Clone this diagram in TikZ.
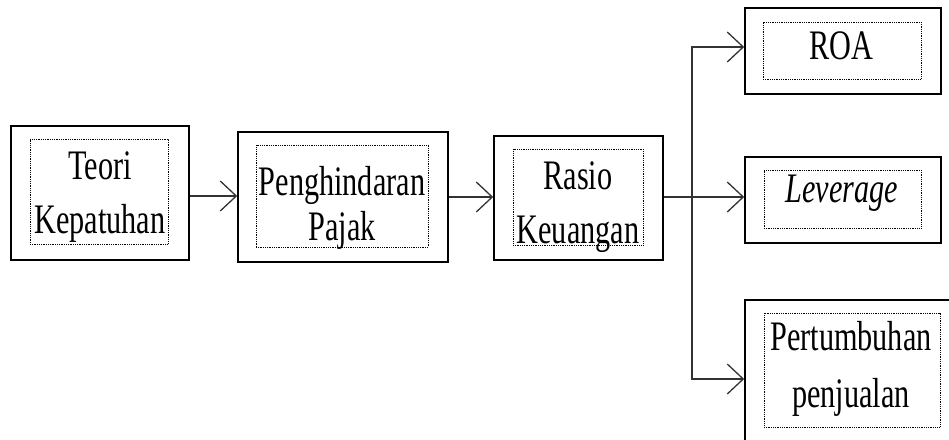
\documentclass[tikz,border=0pt]{standalone}
\usepackage{fontspec}
\setmainfont{Liberation Serif}[FakeStretch=0.72]
\usetikzlibrary{arrows.meta,calc}
\begin{document}
\begin{tikzpicture}[x=1pt,y=-1pt,
  outerbox/.style={draw=black,line width=1.6pt,rectangle,inner sep=0pt},
  innerbox/.style={draw=black,dash pattern=on 0.9pt off 0.9pt,line width=0.9pt,rectangle,inner sep=0pt},
  lbl/.style={align=center,inner sep=0pt,font=\fontsize{42}{54}\selectfont},
  arr/.style={draw=black!80,line width=1.3pt,-{Straight Barb[length=16pt,width=30pt,line width=1.3pt]}},
  conn/.style={draw=black!80,line width=1.3pt}]
\useasboundingbox (0,0) rectangle (949,439);
\clip (0,0) rectangle (949,439);
% outer boxes
\node[outerbox,minimum width=178pt,minimum height=134pt] (teori) at (100,193) {};
\node[outerbox,minimum width=210pt,minimum height=130pt] (pajak) at (343,197) {};
\node[outerbox,minimum width=169pt,minimum height=124pt] (rasio) at (578.5,198) {};
\node[outerbox,minimum width=196pt,minimum height=86pt] (roa) at (843,51) {};
\node[outerbox,minimum width=196pt,minimum height=86pt] (lev) at (843,200) {};
\node[outerbox,minimum width=216pt,minimum height=158pt] (pert) at (853,379) {};
% inner dotted boxes
\node[innerbox,minimum width=138pt,minimum height=105pt] (teoriin) at (99,191.5) {};
\node[innerbox,minimum width=172pt,minimum height=102pt] (pajakin) at (342,196) {};
\node[innerbox,minimum width=130pt,minimum height=96pt] (rasioin) at (578,197) {};
\node[innerbox,minimum width=158pt,minimum height=57pt] (roain) at (842,50.5) {};
\node[innerbox,minimum width=157pt,minimum height=58pt] (levin) at (842.5,199) {};
\node[innerbox,minimum width=176pt,minimum height=114pt] (pertin) at (852,370) {};
% texts (base anchor = baseline of last line)
\node[lbl,anchor=base] (t1) at (100,233) {Teori\\Kepatuhan};
\node[lbl,anchor=base] (t2) at (342,240) {Penghindaran\\[-9pt]Pajak};
\node[lbl,anchor=base] (t3) at (578,243) {Rasio\\Keuangan};
\node[lbl,anchor=base] (t4) at (841,59) {ROA};
\node[lbl,anchor=base] (t5) at (842,202) {\itshape Leverage};
\node[lbl,anchor=base] (t6) at (851,407) {Pertumbuhan\\[3pt]penjualan};
% connectors
\draw[arr] (teori.east |- 0,196) -- (pajak.west |- 0,196);
\draw[arr] (pajak.east |- 0,197) -- (rasio.west |- 0,197);
\coordinate (split) at (692,197);
\draw[conn] (rasio.east |- split) -- (split);
\draw[arr] (split) |- (roa.west |- 0,47);
\draw[arr] (split) -- (split -| lev.west);
\draw[arr] (split) |- (pert.west);
\end{tikzpicture}
\end{document}
